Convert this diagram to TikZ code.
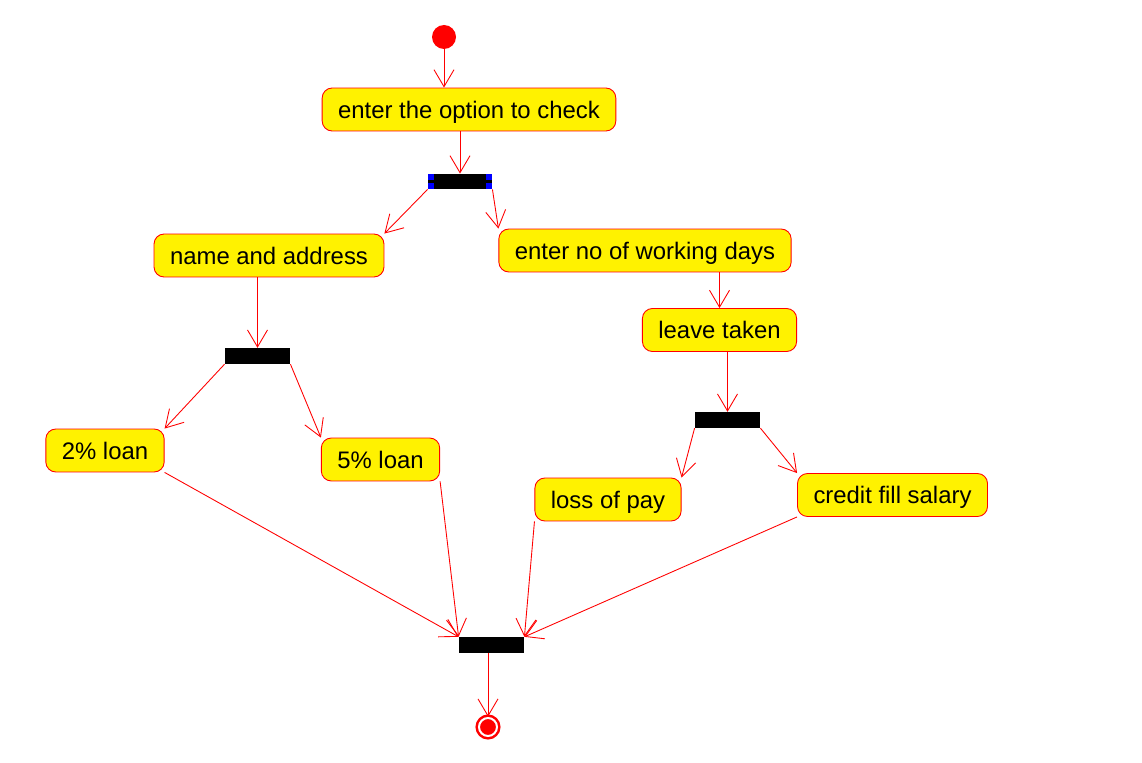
\documentclass[tikz,border=0pt]{standalone}
\usepackage{fontspec}
\setmainfont{Liberation Sans}
\usetikzlibrary{arrows.meta}

\begin{document}
\begin{tikzpicture}[x=0.02cm, y=-0.02cm, >={Straight Barb[length=3.4mm, width=4mm]}, line width=0.5pt]
\tikzset{ActStyle/.style = {shape=rectangle, rounded corners=0.2cm, draw=red, fill=yellow, minimum height=0.86cm, inner xsep=0.32cm, text depth=0pt, font=\fontsize{13.6}{16}\selectfont}}
\tikzset{BarStyle/.style = {shape=rectangle, fill=black, minimum width=1.3cm, minimum height=0.31cm, inner sep=0pt}}
\tikzset{EdgeStyle/.style = {->, draw=red}}
\useasboundingbox (0,0) rectangle (1142,763);
  	\node[circle, fill=red, minimum size=0.48cm, inner sep=0pt] (start) at (444,37) {};
	\node[ActStyle] (opt) at (469,109.5) {enter the option to check};
	\node[BarStyle, minimum width=1.28cm, minimum height=0.3cm] (fork) at (460,181.5) {};
	\node[ActStyle] (name) at (269,255.5) {name and address};
	\node[ActStyle] (days) at (645,250.5) {enter no of working days};
	\node[ActStyle] (leave) at (719.5,330) {leave taken};
	\node[BarStyle] (forkA) at (257.5,356) {};
	\node[BarStyle] (forkB) at (727.5,420) {};
	\node[ActStyle] (loanA) at (105,450.5) {2\% loan};
	\node[ActStyle] (loanB) at (380.5,459.5) {5\% loan};
	\node[ActStyle] (loss) at (608,499.5) {loss of pay};
	\node[ActStyle] (credit) at (892.5,495) {credit fill salary};
	\node[BarStyle] (join) at (491.5,645) {};
	\node[circle, draw=red, double=white, double distance=0.04cm, line width=0.05cm, fill=red, minimum size=0.36cm, inner sep=0pt] (stop) at (488,727) {};
	% selection handles on the first bar
	\foreach \a/\dx/\dy in {north west/6/6, south west/6/-6, north east/-6/6, south east/-6/-6}
	  \fill[blue] (fork.\a) rectangle +(\dx,\dy);
  	\draw[EdgeStyle] (start) -- (start |- opt.north);
  	\draw[EdgeStyle] (fork |- opt.south) -- (fork.north);
  	\draw[EdgeStyle] (fork.south west) -- (name.north east);
  	\draw[EdgeStyle] (fork.south east) -- (days.north west);
  	\draw[EdgeStyle] (forkA |- name.south) -- (forkA.north);
  	\draw[EdgeStyle] (leave.north |- days.south) -- (leave.north);
  	\draw[EdgeStyle] (forkB |- leave.south) -- (forkB.north);
  	\draw[EdgeStyle] (forkA.south west) -- (loanA.north east);
  	\draw[EdgeStyle] (forkA.south east) -- (loanB.north west);
  	\draw[EdgeStyle] (forkB.south west) -- (loss.north east);
  	\draw[EdgeStyle] (forkB.south east) -- (credit.north west);
  	\draw[EdgeStyle] (loanA.south east) -- (join.north west);
  	\draw[EdgeStyle] (loanB.south east) -- (join.north west);
  	\draw[EdgeStyle] (loss.south west) -- (join.north east);
  	\draw[EdgeStyle] (credit.south west) -- (join.north east);
  	\draw[EdgeStyle] (stop |- join.south) -- (stop);
\end{tikzpicture}
\end{document}
